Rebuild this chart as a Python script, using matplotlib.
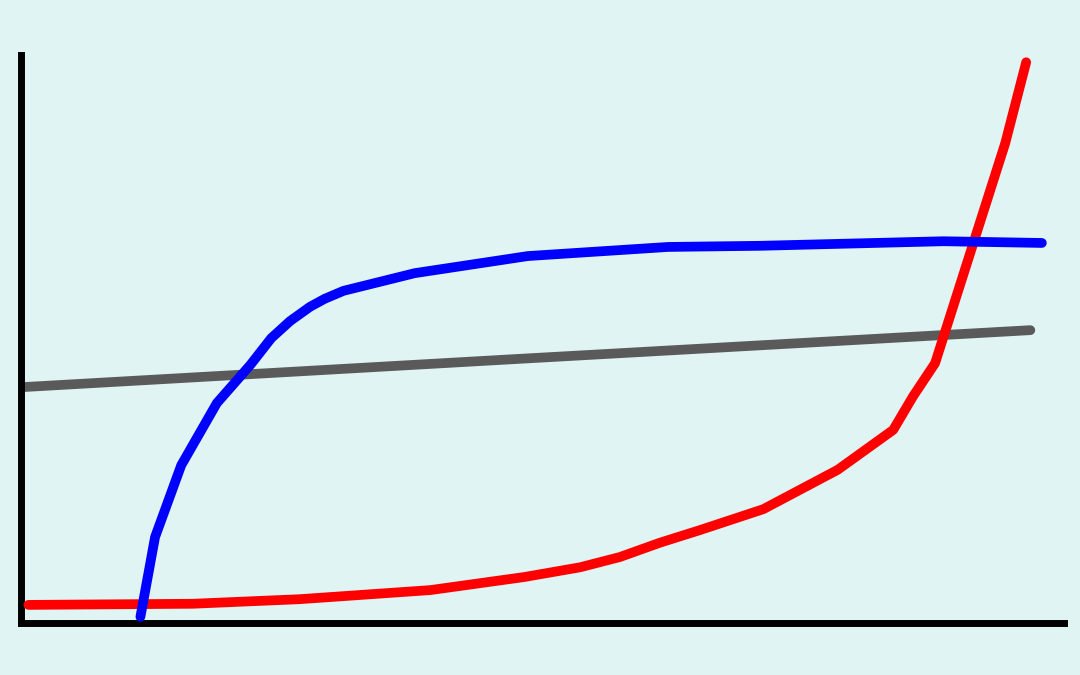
import matplotlib
matplotlib.use("Agg")
import matplotlib.pyplot as plt

# Data (arbitrary units, x 0-100, y 0-100)
red_x = [0.8, 16.5, 26.7, 39.2, 48.2, 53.5, 57.3, 61.1, 64.9, 71.0, 78.1, 83.4, 85.3, 87.4, 94.1, 96.1]
red_y = [3.0, 3.2, 4.0, 5.6, 7.9, 9.6, 11.4, 13.9, 16.1, 19.8, 26.7, 33.7, 39.6, 45.4, 84.0, 98.2]

blue_x = [11.5, 12.9, 15.4, 18.8, 22.0, 24.0, 25.8, 27.7, 29.1, 30.9, 37.7, 48.5, 61.9, 70.7, 88.2, 97.6]
blue_y = [0.9, 14.9, 27.5, 38.4, 45.1, 49.8, 52.8, 55.3, 56.7, 58.1, 61.2, 64.2, 65.8, 66.0, 66.8, 66.5]

gray_x = [0.2, 48.0, 96.5]
gray_y = [41.2, 46.2, 51.2]

bg = "#e0f4f3"
W, H = 1080, 675
left_px, right_px, bottom_px, top_px = 20.5, 1063.5, 622.5, 54.5
fig = plt.figure(figsize=(10.8, 6.75), dpi=100, facecolor=bg)
ax = fig.add_axes([left_px / W, (H - bottom_px) / H, (right_px - left_px) / W, (bottom_px - top_px) / H])
ax.set_facecolor(bg)

lw = 7
ax.plot(red_x, red_y, color="#ff0000", lw=lw, solid_capstyle="round", solid_joinstyle="round", zorder=3)
ax.plot(blue_x, blue_y, color="#0000ff", lw=lw, solid_capstyle="round", solid_joinstyle="round", zorder=4)
ax.plot(gray_x, gray_y, color="#5a5a5a", lw=lw, solid_capstyle="round", zorder=2)

sx, sy = 10.47, 5.70
ax.set_xlim((left_px - 20) / sx, (right_px - 20) / sx)
ax.set_ylim((622 - bottom_px) / sy, (622 - top_px) / sy)
ax.set_xticks([])
ax.set_yticks([])
for s in ["top", "right"]:
    ax.spines[s].set_visible(False)
for s in ["left", "bottom"]:
    ax.spines[s].set_linewidth(5)
    ax.spines[s].set_color("black")

fig.savefig("out.png", dpi=100, facecolor=bg)
